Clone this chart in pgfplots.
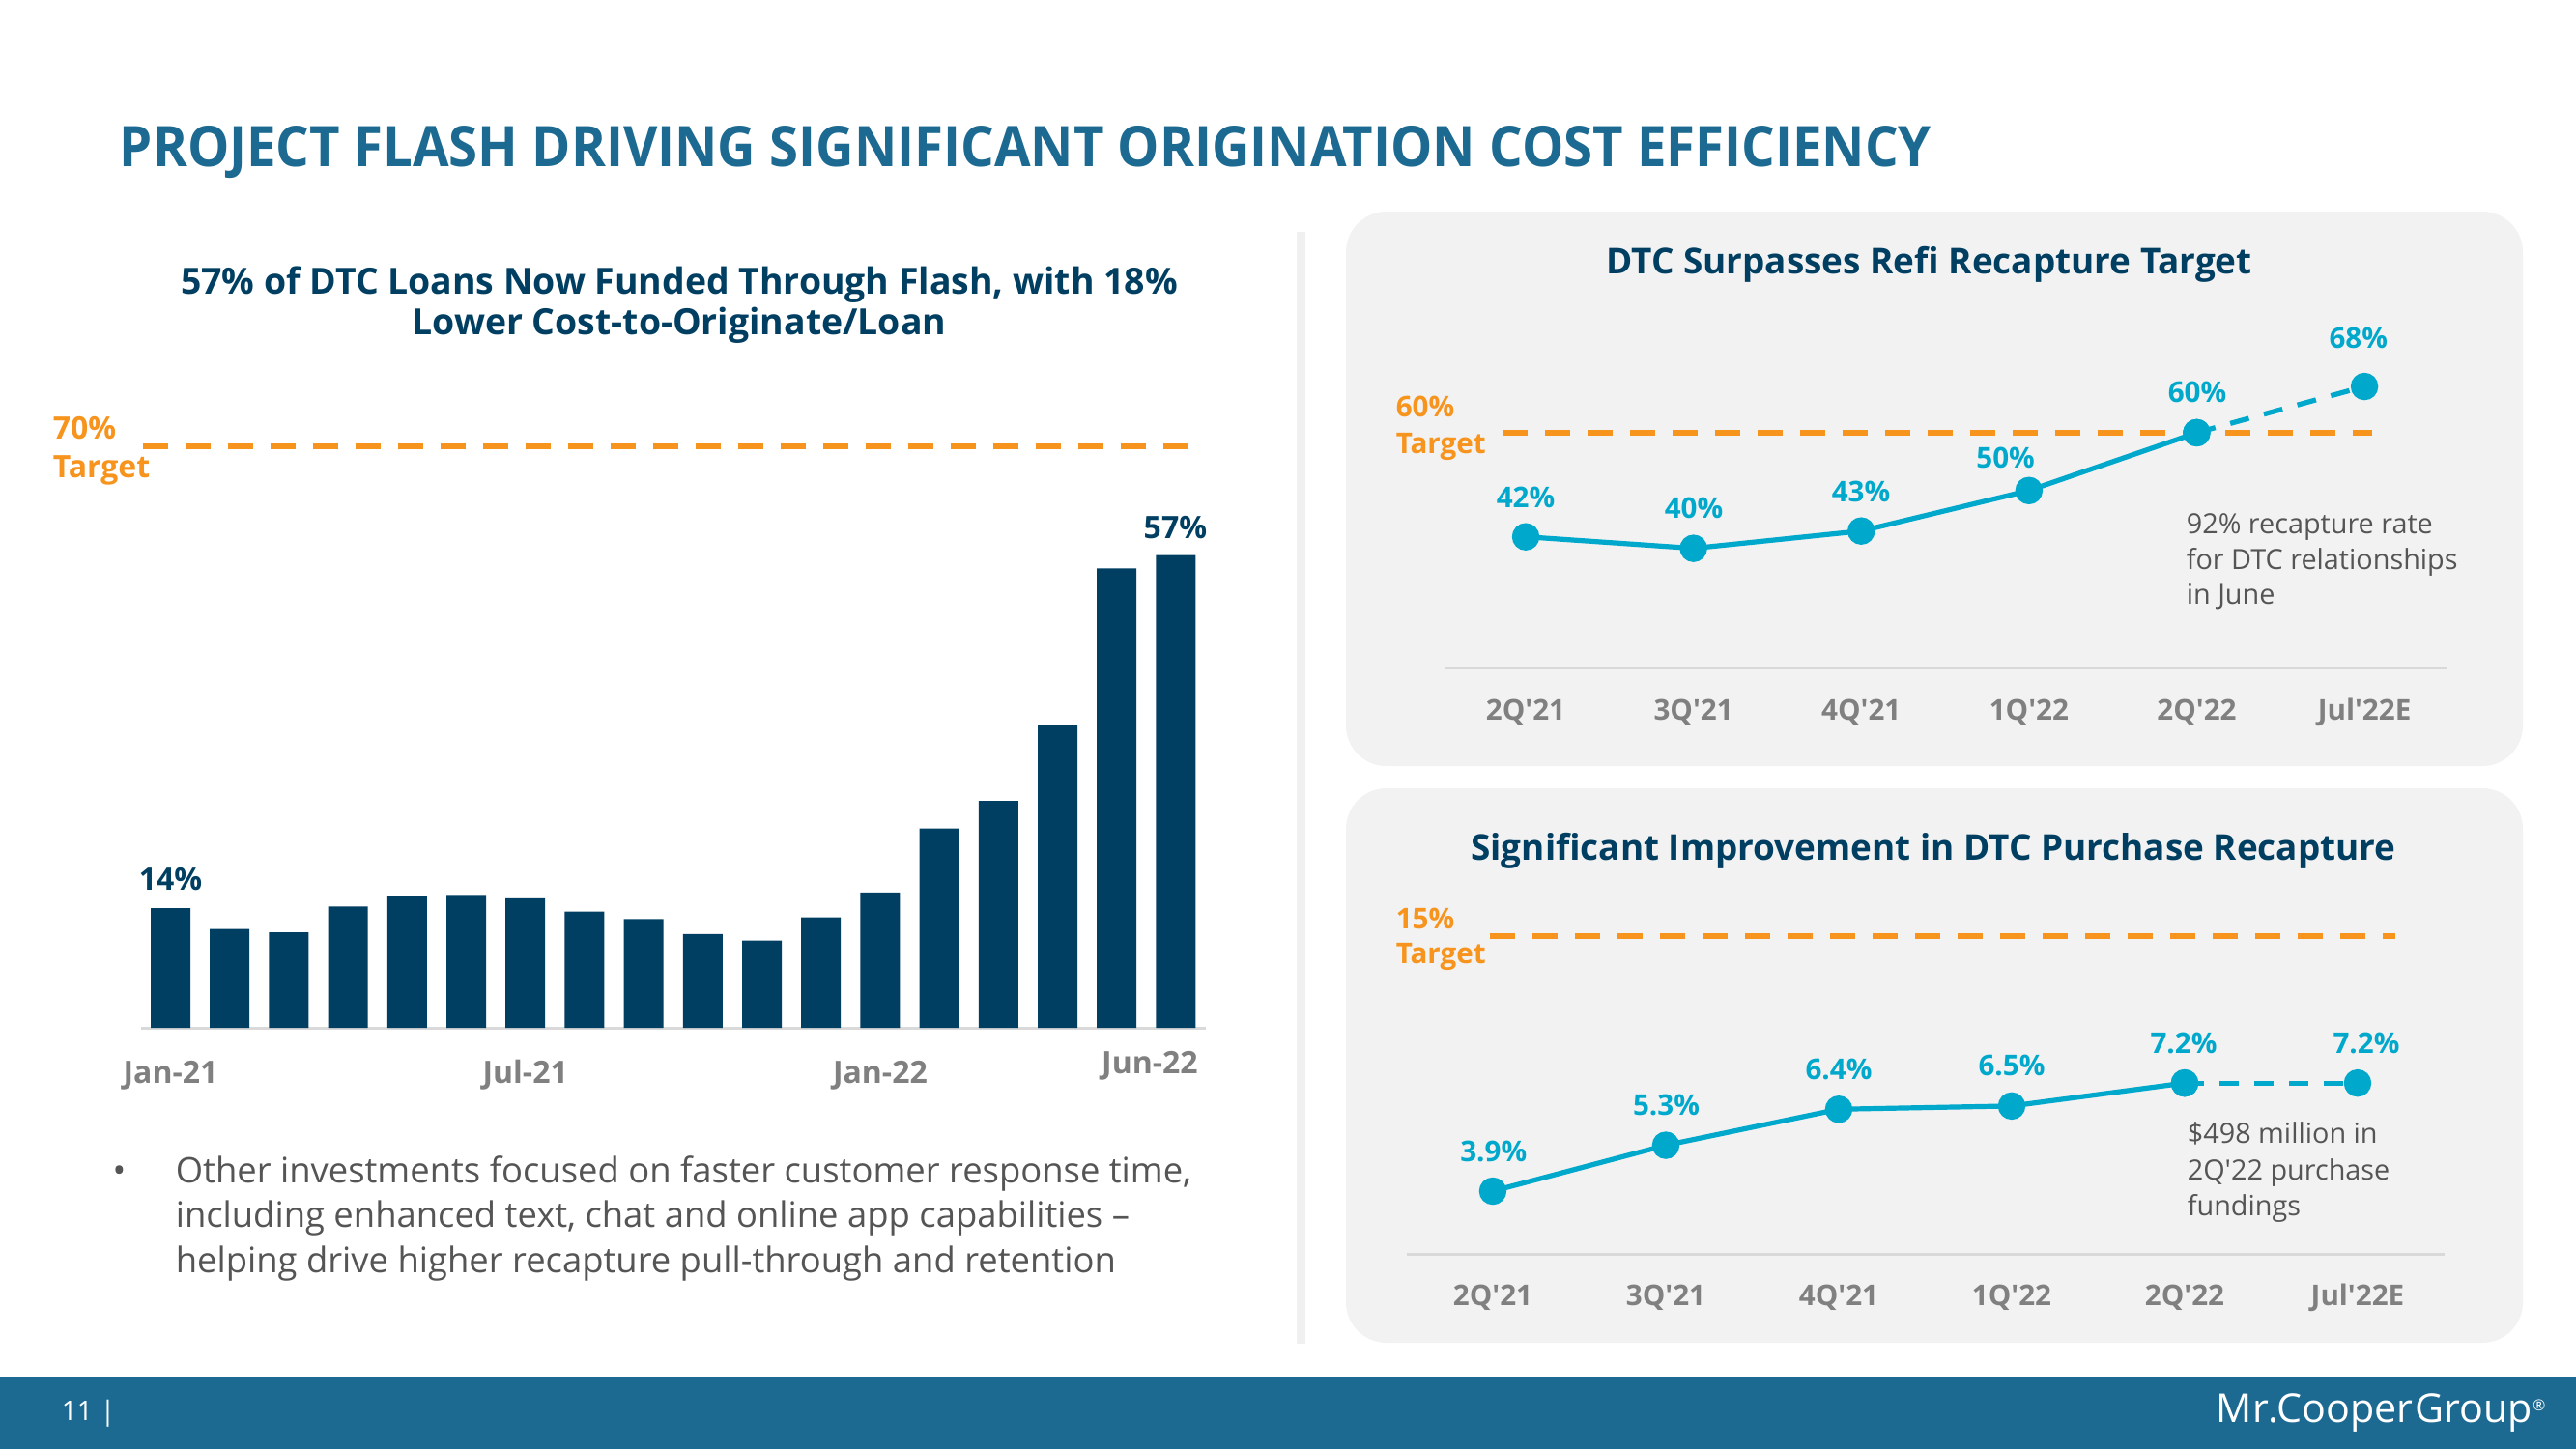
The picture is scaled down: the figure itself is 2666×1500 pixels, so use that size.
\documentclass[border=0pt]{standalone}
\usepackage{pgfplots}
\pgfplotsset{compat=1.18}
\usepackage{fontspec}
\setmainfont{Open Sans}
\definecolor{titleblue}{RGB}{28,106,145}
\definecolor{navy}{RGB}{0,63,98}
\definecolor{axisgray}{RGB}{217,217,217}
\definecolor{tickgray}{RGB}{128,128,128}
\definecolor{targetorange}{RGB}{247,148,29}
\definecolor{linecyan}{RGB}{0,168,204}
\definecolor{textgray}{RGB}{85,85,85}
\definecolor{panel}{RGB}{242,242,242}
\definecolor{sepgray}{RGB}{240,240,240}
\newcommand{\fsz}[1]{\fontsize{#1}{#1}\selectfont}
\newcommand{\q}{\textquotesingle}
\pgfplotsset{
  chartax/.style={scale only axis, anchor=south west,
    axis x line*=bottom, axis y line=none,
    x axis line style={-, draw=axisgray, line width=0.75pt},
    xtick style={draw=none}, ytick=\empty, clip=false,
    xticklabel style={anchor=base, inner sep=0pt, text=tickgray, font=\fsz{7.4}\bfseries}},
  target/.style={targetorange, line width=1.7pt, dash pattern=on 6.5pt off 4.5pt, mark=none},
}
\begin{document}
\begin{tikzpicture}
\begin{scope}[x=0.25pt,y=-0.25pt]
  \useasboundingbox (0,0) rectangle (2666,1500);
  \fill[white] (0,0) rectangle (2666,1500);
  \fill[titleblue] (0,1425) rectangle (2666,1500);
  \fill[panel, rounded corners=10.5pt] (1393,219) rectangle (2611,793);
  \fill[panel, rounded corners=10.5pt] (1393,816) rectangle (2611,1390);
  \fill[sepgray] (1342,240) rectangle (1351,1391);
\end{scope}

% ---------- Left bar chart ----------
\begin{axis}[chartax, at={(36.475pt,-266pt)}, width=275.4pt, height=161.25pt,
  xmin=-0.5, xmax=17.5, ymin=0, ymax=75,
  xtick={0,6,12,16.56}, xticklabels={Jan-21,Jul-21,Jan-22,\raisebox{2.6pt}{Jun-22}},
  xticklabel style={yshift=-14.35pt, font=\fsz{8}\bfseries}]
\addplot[ybar, bar width=10.25pt, fill=navy, draw=none] coordinates {
 (0,14.4) (1,11.9) (2,11.5) (3,14.6) (4,15.8) (5,16.0) (6,15.6) (7,14.0) (8,13.1)
 (9,11.3) (10,10.5) (11,13.3) (12,16.3) (13,24.0) (14,27.3) (15,36.4) (16,55.3) (17,56.9)};
\addplot[target] coordinates {(-0.466,70) (17.44,70)};
\end{axis}

% ---------- Top right line chart ----------
\begin{axis}[chartax, at={(373.75pt,-172.875pt)}, width=259.5pt, height=83.33pt,
  xmin=-0.484, xmax=5.495, ymin=19.3, ymax=75,
  xtick={0,1,2,3,4,5}, xticklabels={2Q\q21,3Q\q21,4Q\q21,1Q\q22,2Q\q22,Jul\q22E},
  xticklabel style={yshift=-13.55pt}]
\addplot[target] coordinates {(-0.138,60) (5.046,60)};
\addplot[linecyan, line width=1.3pt, mark=*, mark size=2.9pt, mark options={solid, fill=linecyan, draw=linecyan}]
  coordinates {(0,42) (1,40) (2,43) (3,50) (4,60)};
\addplot[linecyan, line width=1.3pt, dash pattern=on 5pt off 4pt, mark=*, mark size=2.9pt, mark options={solid, fill=linecyan, draw=linecyan}]
  coordinates {(4,60) (5,68)};
\end{axis}

% ---------- Bottom right line chart ----------
\begin{axis}[chartax, at={(364pt,-324.5pt)}, width=268.5pt, height=93.375pt,
  xmin=-0.497, xmax=5.503, ymin=1.983, ymax=13,
  xtick={0,1,2,3,4,5}, xticklabels={2Q\q21,3Q\q21,4Q\q21,1Q\q22,2Q\q22,Jul\q22E},
  xticklabel style={yshift=-13.4pt}]
\addplot[linecyan, line width=1.3pt, mark=*, mark size=2.9pt, mark options={solid, fill=linecyan, draw=linecyan}]
  coordinates {(0,3.9) (1,5.3) (2,6.4) (3,6.5) (4,7.2)};
\addplot[linecyan, line width=1.3pt, dash pattern=on 5pt off 4pt, mark=*, mark size=2.9pt, mark options={solid, fill=linecyan, draw=linecyan}]
  coordinates {(4,7.2) (5,7.2)};
\end{axis}

\begin{scope}[x=0.25pt,y=-0.25pt, every node/.style={inner sep=0pt}]
  % target line of the purchase chart (drawn where it sits on the slide)
  \draw[targetorange, line width=1.7pt, dash pattern=on 6.5pt off 4.5pt] (1542,969) -- (2479,969);
  % titles
  \node[anchor=base west, text=titleblue, font=\fsz{14.5}\bfseries] at (123,172)
    {\scalebox{0.94}[1]{PROJECT FLASH DRIVING SIGNIFICANT ORIGINATION COST EFFICIENCY}};
  \node[anchor=base, text=navy, font=\fsz{9.35}\bfseries] at (703,304.5)
    {57\% of DTC Loans Now Funded Through Flash, with 18\%};
  \node[anchor=base, text=navy, font=\fsz{9.35}\bfseries] at (703,346)
    {Lower Cost-to-Originate/Loan};
  \node[anchor=base, text=navy, font=\fsz{9.22}\bfseries] at (1996.5,283)
    {DTC Surpasses Refi Recapture Target};
  \node[anchor=base, text=navy, font=\fsz{9.22}\bfseries] at (2001,890)
    {Significant Improvement in DTC Purchase Recapture};
  % target labels
  \begin{scope}[every node/.style={inner sep=0pt, anchor=base west, text=targetorange}]
    \node[font=\fsz{8}\bfseries] at (54,454) {70\%};
    \node[font=\fsz{8}\bfseries] at (54,494) {Target};
    \node[font=\fsz{7.4}\bfseries] at (1444,431) {60\%};
    \node[font=\fsz{7.4}\bfseries] at (1444,469) {Target};
    \node[font=\fsz{7.4}\bfseries] at (1444,961) {15\%};
    \node[font=\fsz{7.4}\bfseries] at (1444,997.5) {Target};
  \end{scope}
  % bar labels
  \node[anchor=base, text=navy, font=\fsz{8}\bfseries] at (176.6,921.6) {14\%};
  \node[anchor=base, text=navy, font=\fsz{8}\bfseries] at (1216.4,557) {57\%};
  % line labels
  \begin{scope}[every node/.style={inner sep=0pt, anchor=base, text=linecyan, font=\fsz{7.4}\bfseries}]
    \node at (1579,525) {42\%};
    \node at (1753,536) {40\%};
    \node at (1926,519.5) {43\%};
    \node at (2075.6,484.7) {50\%};
    \node at (2274,416.7) {60\%};
    \node at (2440.7,360) {68\%};
    \node at (1545.7,1202) {3.9\%};
    \node at (1724.5,1154) {5.3\%};
    \node at (1903,1117) {6.4\%};
    \node at (2082,1113) {6.5\%};
    \node at (2260,1090.5) {7.2\%};
    \node at (2449,1090.5) {7.2\%};
  \end{scope}
  % annotations
  \begin{scope}[every node/.style={inner sep=0pt, anchor=base west, text=textgray, font=\fsz{7.2}}]
    \node at (2262,552) {92\% recapture rate};
    \node at (2262,589.5) {for DTC relationships};
    \node at (2262,625) {in June};
    \node at (2263,1183) {\$498 million in};
    \node at (2263,1221) {2Q\q22 purchase};
    \node at (2263,1258) {fundings};
  \end{scope}
  % bullet
  \begin{scope}[every node/.style={inner sep=0pt, anchor=base west, text=textgray, font=\fsz{9.1}}]
    \node[anchor=base] at (123.5,1224) {\textbullet};
    \node at (181,1224) {Other investments focused on faster customer response time,};
    \node at (181,1270.5) {including enhanced text, chat and online app capabilities --};
    \node at (181,1317) {helping drive higher recapture pull-through and retention};
  \end{scope}
  % footer
  \node[anchor=base west, text=white, font=\fsz{7}] at (63,1470) {11};
  \node[anchor=base west, text=white, font=\fsz{7}] at (103,1470) {|};
  \node[anchor=base west, text=white, font=\fsz{10.3}] at (2293,1472) {Mr.Cooper\kern0.5pt Group\raisebox{3pt}{\fsz{4}®}};
\end{scope}
\end{tikzpicture}
\end{document}
